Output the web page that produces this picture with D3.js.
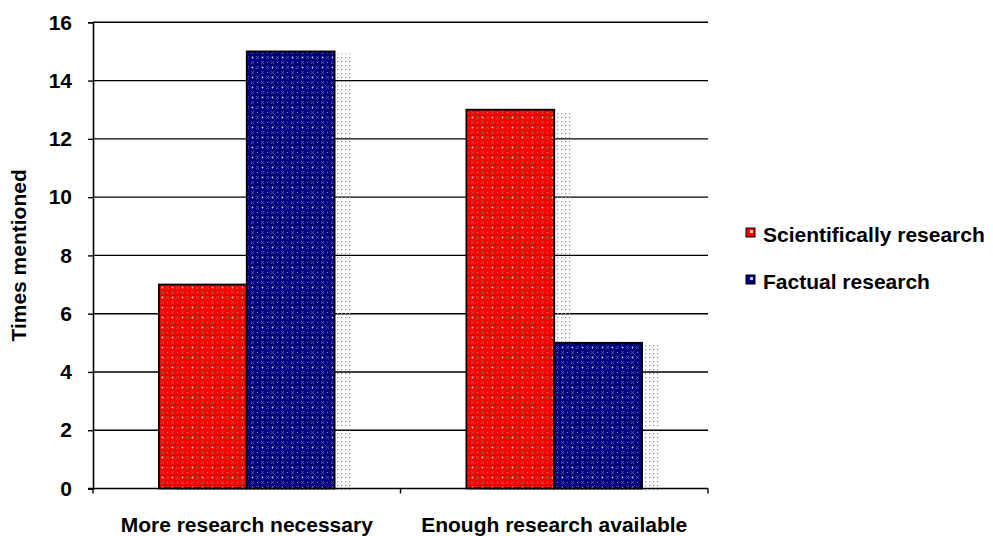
<!DOCTYPE html>
<html>
<head>
<meta charset="utf-8">
<script src="https://cdn.jsdelivr.net/npm/d3@7"></script>
<style>
  body { margin: 0; background: #fff; }
  svg { display: block; }
  text { font-family: "Liberation Sans", Arial, sans-serif; font-weight: bold; fill: #000; }
</style>
</head>
<body>
<div id="chart"></div>
<script>
// chart data
const categories = ["More research necessary", "Enough research available"];
const seriesNames = ["Scientifically research", "Factual research"];
const scientific = [7, 13];
const factual = [15, 5];
const yTicks = [0, 2, 4, 6, 8, 10, 12, 14, 16];
const colors = ["#ff0000", "#000080"];

const W = 993, H = 536;
const plotLeft = 93, plotRight = 708, plotTop = 22.3, plotBottom = 488.5;

const svg = d3.select("#chart").append("svg")
  .attr("width", W)
  .attr("height", H);

// textures that mimic the dotted fill of the original picture
const defs = svg.append("defs");
colors.forEach((c, i) => {
  const p = defs.append("pattern")
    .attr("id", "tex" + i)
    .attr("patternUnits", "userSpaceOnUse")
    .attr("width", 10).attr("height", 10);
  p.append("rect").attr("width", 10).attr("height", 10).attr("fill", c);
  p.append("path")
    .attr("d", "M1,1L4,4M4,1L1,4M6,6L9,9M9,6L6,9")
    .attr("stroke", i === 0 ? "#b05858" : "#6060a8")
    .attr("stroke-width", 0.8);
  p.append("circle").attr("cx", 2.5).attr("cy", 7.5).attr("r", 0.9).attr("fill", "#ffffff").attr("opacity", 0.85);
  p.append("circle").attr("cx", 7.5).attr("cy", 2.5).attr("r", 0.6).attr("fill", "#dddddd").attr("opacity", 0.7);
  p.append("rect").attr("x", 0).attr("y", 5).attr("width", 10).attr("height", 0.6)
    .attr("fill", "#000").attr("opacity", 0.3);
});
const sh = defs.append("pattern")
  .attr("id", "shadow")
  .attr("patternUnits", "userSpaceOnUse")
  .attr("width", 4).attr("height", 4);
sh.append("rect").attr("x", 1).attr("y", 1).attr("width", 1.2).attr("height", 1.2).attr("fill", "#8a8a8a");

const x0 = d3.scaleBand()
  .domain(categories)
  .range([plotLeft, plotRight])
  .paddingInner(0)
  .paddingOuter(0);

const x1 = d3.scaleBand()
  .domain(seriesNames)
  .range([0, x0.bandwidth()])
  .paddingInner(0)
  .paddingOuter(0.75);

const y = d3.scaleLinear()
  .domain([0, 16])
  .range([plotBottom, plotTop]);

// gridlines
svg.append("g")
  .selectAll("line")
  .data(yTicks.filter(d => d > 0))
  .enter()
  .append("line")
  .attr("x1", plotLeft)
  .attr("x2", plotRight)
  .attr("y1", d => y(d))
  .attr("y2", d => y(d))
  .attr("stroke", "#000")
  .attr("stroke-width", 1.4);

const rows = categories.map((c, i) => ({
  category: c,
  values: [scientific[i], factual[i]]
}));

// dotted shadow behind the bars
const group = svg.append("g");
rows.forEach(r => {
  r.values.forEach((v, j) => {
    group.append("rect")
      .attr("x", x0(r.category) + x1(seriesNames[j]) + 18)
      .attr("y", y(v) + 2)
      .attr("width", x1.bandwidth())
      .attr("height", y(0) - y(v) + 2)
      .attr("fill", "url(#shadow)");
  });
});

// bars
rows.forEach(r => {
  r.values.forEach((v, j) => {
    group.append("rect")
      .attr("x", x0(r.category) + x1(seriesNames[j]))
      .attr("y", y(v))
      .attr("width", x1.bandwidth())
      .attr("height", y(0) - y(v))
      .attr("fill", "url(#tex" + j + ")")
      .attr("stroke", "#000")
      .attr("stroke-width", 1.8);
  });
});

// y axis
const yAxis = svg.append("g")
  .attr("transform", `translate(${plotLeft},0)`)
  .call(d3.axisLeft(y).tickValues(yTicks).tickSize(5).tickPadding(16));
yAxis.select(".domain").attr("stroke", "#000").attr("stroke-width", 1.6);
yAxis.selectAll(".tick line").attr("stroke", "#000").attr("stroke-width", 1.4);
yAxis.selectAll(".tick text")
  .style("font-size", "21px")
  .style("font-family", '"Liberation Sans", Arial, sans-serif')
  .style("font-weight", "bold")
  .attr("fill", "#000");

// x axis: ticks at the band edges
const xAxis = svg.append("g")
  .attr("transform", `translate(0,${plotBottom})`);
xAxis.append("line")
  .attr("x1", plotLeft - 5).attr("x2", plotRight)
  .attr("stroke", "#000").attr("stroke-width", 1.6);
const edges = categories.map(c => x0(c)).concat([x0(categories[categories.length - 1]) + x0.bandwidth()]);
xAxis.selectAll(".edge")
  .data(edges)
  .enter()
  .append("line")
  .attr("x1", d => d).attr("x2", d => d)
  .attr("y1", 0).attr("y2", 5)
  .attr("stroke", "#000").attr("stroke-width", 1.4);
xAxis.selectAll(".cat")
  .data(categories)
  .enter()
  .append("text")
  .attr("x", d => x0(d) + x0.bandwidth() / 2)
  .attr("y", 43)
  .attr("text-anchor", "middle")
  .style("font-size", "21px")
  .text(d => d);

// y axis title
svg.append("text")
  .attr("transform", `translate(26,${(plotTop + plotBottom) / 2}) rotate(-90)`)
  .attr("text-anchor", "middle")
  .style("font-size", "21px")
  .text("Times mentioned");

// legend
const legend = svg.append("g")
  .attr("transform", "translate(746,228)");
seriesNames.forEach((s, i) => {
  const g = legend.append("g").attr("transform", `translate(0,${i * 47})`);
  g.append("rect")
    .attr("width", 9).attr("height", 9)
    .attr("fill", colors[i])
    .attr("stroke", "#000").attr("stroke-width", 1);
  g.append("rect")
    .attr("x", 4).attr("y", 2).attr("width", 3).attr("height", 3)
    .attr("fill", "#fff").attr("opacity", 0.8);
  g.append("text")
    .attr("x", 17)
    .attr("y", 14)
    .style("font-size", "21px")
    .text(s);
});
</script>
</body>
</html>
